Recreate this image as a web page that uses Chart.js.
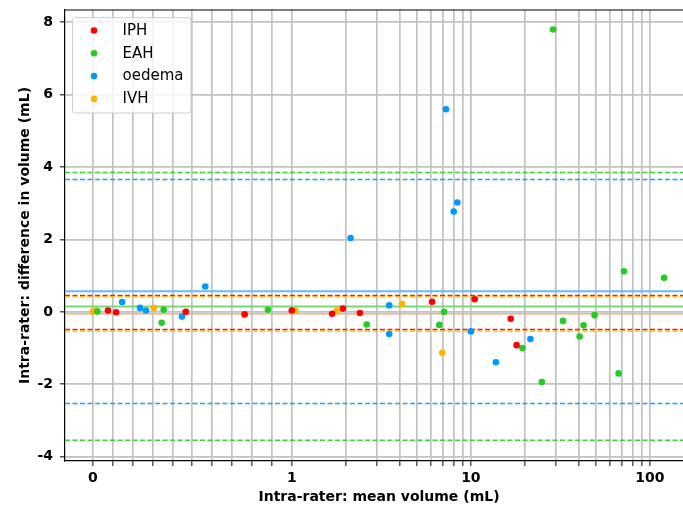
<!DOCTYPE html>
<html><head><meta charset="utf-8">
<script src="https://cdn.jsdelivr.net/npm/chart.js@4/dist/chart.umd.min.js"></script>
<style>
html,body{margin:0;padding:0;background:#fff;overflow:hidden;}
#wrap{width:700px;height:512px;position:relative;}
</style></head><body>
<div id="wrap"><canvas id="c" width="700" height="512"></canvas></div>
<script>
// ---------- data ----------
const GROUPS = ['IPH', 'EAH', 'oedema', 'IVH'];
const COLORS = ['#ff0000', '#22cc22', '#0099ff', '#ffb300'];
const MEAN_COLORS = ['#ff7777', '#77d977', '#66b8ff', '#efbc5c'];

const IPH_X = [0.076, 0.117, 0.467, 0.763, 1.0, 1.68, 1.93, 2.40, 6.07, 10.5, 16.7, 18.0];
const IPH_Y = [0.04, -0.01, 0.0, -0.07, 0.04, -0.05, 0.09, -0.03, 0.28, 0.35, -0.19, -0.92];

const EAH_X = [0.023, 0.346, 0.356, 0.88, 2.62, 6.66, 7.08, 19.4, 24.9, 28.8, 32.7, 40.5, 42.6, 49.1, 66.8, 71.6, 120];
const EAH_Y = [0.01, -0.30, 0.06, 0.06, -0.35, -0.36, 0.0, -1.00, -1.94, 7.80, -0.25, -0.68, -0.37, -0.09, -1.70, 1.12, 0.94];

const OEDEMA_X = [0.147, 0.237, 0.267, 0.448, 0.565, 2.13, 3.50, 3.50, 7.26, 8.02, 8.40, 10.0, 13.8, 21.5];
const OEDEMA_Y = [0.27, 0.11, 0.04, -0.13, 0.70, 2.04, 0.18, -0.61, 5.60, 2.77, 3.02, -0.54, -1.39, -0.75];

const IVH_X = [0.0, 0.02, 0.306, 1.047, 1.78, 4.12, 6.92];
const IVH_Y = [0.01, 0.04, 0.11, 0.04, 0.03, 0.22, -1.13];

// bias (mean difference) and limits of agreement per group
const MEAN_DIFF = [-0.05, 0.15, 0.57, -0.05];
const LOA_UPPER = [0.45, 3.85, 3.66, 0.42];
const LOA_LOWER = [-0.49, -3.55, -2.53, -0.53];

const X_TICKS = [0, 1, 10, 100];
const X_MINOR = [0.1, 0.2, 0.3, 0.4, 0.5, 0.6, 0.7, 0.8, 0.9, 2, 3, 4, 5, 6, 7, 8, 9, 20, 30, 40, 50, 60, 70, 80, 90];
const Y_TICKS = [-4, -2, 0, 2, 4, 6, 8];
const X_MIN = -0.14, X_MAX = 174;
const Y_MIN = -4.12, Y_MAX = 8.34;

const X_TITLE = 'Intra-rater: mean volume (mL)';
const Y_TITLE = 'Intra-rater: difference in volume (mL)';

// ---------- symlog scale (linthresh 1, base 10, linscale 1) ----------
const LINSCALE_ADJ = 1 / (1 - 1 / 10);
function symlog(v) {
  const a = Math.abs(v), s = Math.sign(v);
  return a <= 1 ? v * LINSCALE_ADJ : s * (LINSCALE_ADJ + Math.log10(a));
}
function symexp(t) {
  const a = Math.abs(t), s = Math.sign(t);
  return a <= LINSCALE_ADJ ? t / LINSCALE_ADJ : s * Math.pow(10, a - LINSCALE_ADJ);
}
class SymlogScale extends Chart.Scale {
  determineDataLimits() {
    const mm = this.getMinMax(true);
    this.min = Number.isFinite(this.options.min) ? this.options.min : mm.min;
    this.max = Number.isFinite(this.options.max) ? this.options.max : mm.max;
  }
  buildTicks() {
    const vals = X_TICKS.concat(X_MINOR).sort((a, b) => a - b);
    return vals.map(v => ({ value: v, major: false }));
  }
  getLabelForValue(v) { return String(v); }
  getPixelForValue(v) {
    const t0 = symlog(this.min), t1 = symlog(this.max);
    return this.getPixelForDecimal((symlog(v) - t0) / (t1 - t0));
  }
  getValueForPixel(p) {
    const t0 = symlog(this.min), t1 = symlog(this.max);
    return symexp(t0 + this.getDecimalForPixel(p) * (t1 - t0));
  }
}
SymlogScale.id = 'symlog';
SymlogScale.defaults = {};
Chart.register(SymlogScale);

// ---------- datasets ----------
const SERIES_X = [IPH_X, EAH_X, OEDEMA_X, IVH_X];
const SERIES_Y = [IPH_Y, EAH_Y, OEDEMA_Y, IVH_Y];
const datasets = [];
GROUPS.forEach((g, i) => {
  datasets.push({
    label: g,
    data: SERIES_X[i].map((x, k) => ({ x: x, y: SERIES_Y[i][k] })),
    backgroundColor: COLORS[i],
    borderWidth: 0,
    pointRadius: 3.3,
    showLine: false,
    order: 0
  });
});
function hexA(hex, a) {
  const n = parseInt(hex.slice(1), 16);
  return `rgba(${(n >> 16) & 255},${(n >> 8) & 255},${n & 255},${a})`;
}
const MEAN_WIDTH = [1.2, 2, 2, 1.2];
GROUPS.forEach((g, i) => {
  const ord = 10 - i; // later groups on top
  const mk = (v, color, dash, w) => ({
    label: g + '_ref',
    data: [{ x: X_MIN, y: v }, { x: X_MAX, y: v }],
    borderColor: color,
    borderWidth: w,
    borderDash: dash,
    pointRadius: 0,
    showLine: true,
    fill: false,
    order: ord
  });
  datasets.push(mk(MEAN_DIFF[i], MEAN_COLORS[i], [], MEAN_WIDTH[i]));
  datasets.push(mk(LOA_UPPER[i], hexA(COLORS[i], 0.9), [5, 2.5], 1.5));
  datasets.push(mk(LOA_LOWER[i], hexA(COLORS[i], 0.9), [5, 2.5], 1.5));
});

// ---------- legend + top spine plugin ----------
const boxLegend = {
  id: 'boxLegend',
  afterDraw(chart) {
    const { ctx, chartArea } = chart;
    ctx.save();
    ctx.strokeStyle = '#000';
    ctx.lineWidth = 1.2;
    ctx.beginPath();
    ctx.moveTo(chartArea.left, chartArea.top);
    ctx.lineTo(chartArea.right, chartArea.top);
    ctx.stroke();
    const bx = chartArea.left + 7.5, by = chartArea.top + 7.7, bw = 118.5, bh = 95.3;
    ctx.fillStyle = 'rgba(255,255,255,0.8)';
    ctx.strokeStyle = '#cccccc';
    ctx.lineWidth = 1;
    ctx.beginPath();
    ctx.roundRect(bx, by, bw, bh, 3);
    ctx.fill();
    ctx.stroke();
    ctx.font = '15px "DejaVu Sans"';
    ctx.textBaseline = 'middle';
    chart.data.datasets.filter(d => GROUPS.includes(d.label)).forEach((d, i) => {
      const y = by + 12.8 + i * 22.8;
      ctx.fillStyle = d.backgroundColor;
      ctx.beginPath();
      ctx.arc(bx + 21.5, y, 3.3, 0, 2 * Math.PI);
      ctx.fill();
      ctx.fillStyle = '#000';
      ctx.fillText(d.label, bx + 50, y + 0.5);
    });
    ctx.restore();
  }
};

const tickFont = { family: '"DejaVu Sans"', size: 14, weight: 'bold' };
const gridCfg = { color: '#c2c2c2', lineWidth: 1.7, tickColor: '#000', tickLength: 5, tickWidth: 1 };

new Chart(document.getElementById('c'), {
  type: 'scatter',
  data: { datasets },
  options: {
    responsive: false,
    animation: false,
    devicePixelRatio: 1,
    layout: { padding: { top: 10, right: 7, left: 0, bottom: 0 } },
    plugins: { legend: { display: false }, tooltip: { enabled: false } },
    scales: {
      x: {
        type: 'symlog',
        min: X_MIN, max: X_MAX,
        grid: gridCfg,
        border: { color: '#000', width: 1.2 },
        ticks: {
          autoSkip: false, maxRotation: 0, color: '#000', font: tickFont, padding: 4,
          callback: (v) => X_TICKS.includes(v) ? String(v) : ''
        },
        title: { display: true, text: X_TITLE, color: '#000', font: tickFont, padding: { top: 0, bottom: 6.6 } },
        afterFit: (s) => { s.height = 51; s.paddingLeft = 0; s.paddingRight = 0; }
      },
      y: {
        type: 'linear',
        min: Y_MIN, max: Y_MAX,
        grid: gridCfg,
        border: { color: '#000', width: 1.2 },
        afterBuildTicks: (s) => { s.ticks = Y_TICKS.map(v => ({ value: v })); },
        ticks: { color: '#000', font: tickFont, padding: 7, callback: (v) => String(v) },
        title: { display: true, text: Y_TITLE, color: '#000', font: tickFont, padding: { top: 16.6, bottom: 0 } },
        afterFit: (s) => { s.width = 65; s.paddingTop = 0; s.paddingBottom = 0; }
      }
    }
  },
  plugins: [boxLegend]
});
</script>
</body></html>
